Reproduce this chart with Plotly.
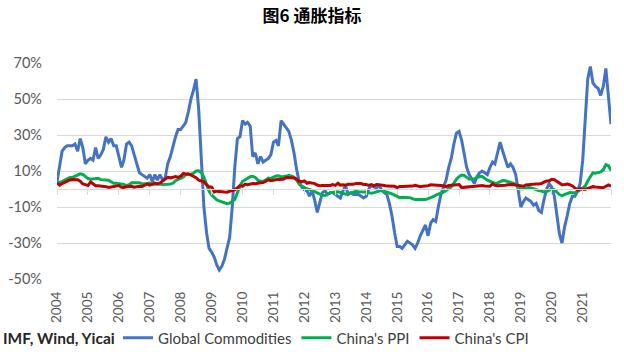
import pandas as pd
import plotly.graph_objects as go

# ---------------- data (monthly, Jan 2004 - Dec 2021, % YoY) ----------------
start_month = "2004-01-01"
n_months = 216

global_commodities = [
    4, 12, 21, 23, 24, 24, 24, 25, 21, 28, 23, 14,        # 2004
    16, 17, 16, 23, 17, 19, 22, 29, 26, 28, 24, 24,       # 2005
    18, 12, 16, 25, 26, 24, 19, 14, 9, 8, 7, 6,           # 2006
    8, 4, 8, 5, 8, 5, 6, 14, 18, 24, 29, 33,              # 2007
    33, 35, 37, 43, 50, 55, 61, 44, 16, -10, -24, -33,    # 2008
    -35, -38, -42, -45, -43, -39, -33, -27, -10, 12, 28, 29,  # 2009
    38, 36, 37, 35, 18, 20, 14, 18, 15, 16, 17, 19,       # 2010
    26, 27, 24, 38, 36, 34, 32, 27, 20, 11, 4, 1,         # 2011
    -0.5, -1, -4, -1, -6, -13, -8, -2, -1, -3, -2, -2,    # 2012
    -3, -4, -5, -1, 2, -3, -2, -3, -3, -3, -4, -5,        # 2013
    -4, 0, 2, 1, 0.5, 2, -0.5, -2, -3, -8, -15, -24,      # 2014
    -32, -32, -33, -31, -29, -30, -31, -33, -30, -26, -23, -20,  # 2015
    -26, -19, -17, -18, -10, -3, 1, 5, 12, 17, 25, 31,    # 2016
    32, 27, 20, 12, 8, 5, 3, 7, 9, 10, 9, 8,              # 2017
    12, 15, 14, 20, 26, 21, 17, 12, 14, 12, 8, -1,        # 2018
    -10, -7, -5, -6, -7, -9, -8, -12, -13, -6, 0, 3,      # 2019
    1, -4, -14, -25, -30, -21, -15, -8, -4, -4, -1, 3,    # 2020
    16, 42, 61, 68, 59, 57, 56, 52, 57, 67, 50, 36,       # 2021
]

china_ppi = [
    3.5, 3.6, 4.0, 5.0, 5.7, 6.4, 6.4, 7.1, 7.9, 8.4, 8.1, 7.1,
    5.8, 5.4, 5.6, 5.8, 5.9, 5.2, 5.2, 5.3, 4.9, 4.0, 3.2, 3.2,
    3.1, 3.0, 2.5, 1.9, 2.4, 3.5, 3.6, 3.4, 3.5, 2.9, 2.8, 3.1,
    3.3, 2.6, 2.7, 2.8, 2.8, 2.5, 2.4, 2.6, 2.7, 3.2, 4.6, 5.4,
    6.1, 6.6, 8.0, 8.1, 8.2, 8.8, 10.0, 10.1, 9.1, 6.6, 2.0, -1.1,
    -3.3, -4.5, -6.0, -6.6, -7.2, -7.8, -8.2, -7.9, -7.0, -5.8, -2.1, 1.7,
    4.3, 5.4, 5.9, 6.8, 7.1, 6.4, 4.8, 4.3, 4.3, 5.0, 6.1, 5.9,
    6.6, 7.2, 7.3, 6.8, 6.8, 7.1, 7.5, 7.3, 6.5, 5.0, 2.7, 1.7,
    0.7, 0.0, -0.3, -0.7, -1.4, -2.1, -2.9, -3.5, -3.6, -2.8, -2.2, -1.9,
    -1.6, -1.6, -1.9, -2.6, -2.9, -2.7, -2.3, -1.6, -1.3, -1.5, -1.4, -1.4,
    -1.6, -2.0, -2.3, -2.0, -1.4, -1.1, -0.9, -1.2, -1.8, -2.2, -2.7, -3.3,
    -4.3, -4.8, -4.6, -4.6, -4.6, -4.8, -5.4, -5.9, -5.9, -5.9, -5.9, -5.9,
    -5.3, -4.9, -4.3, -3.4, -2.8, -2.6, -1.7, -0.8, 0.1, 1.2, 3.3, 5.5,
    6.9, 7.8, 7.6, 6.4, 5.5, 5.5, 5.5, 6.3, 6.9, 6.9, 5.8, 4.9,
    4.3, 3.7, 3.1, 3.4, 4.1, 4.7, 4.6, 4.1, 3.6, 3.3, 2.7, 0.9,
    0.1, 0.1, 0.4, 0.9, 0.6, 0.0, -0.3, -0.8, -1.2, -1.6, -1.4, -0.5,
    0.1, -0.4, -1.5, -3.1, -3.7, -3.0, -2.4, -2.0, -2.1, -2.1, -1.5, -0.4,
    0.3, 1.7, 4.4, 6.8, 9.0, 8.8, 9.0, 9.5, 10.7, 13.5, 12.9, 10.3,
]

china_cpi = [
    3.2, 2.1, 3.0, 3.8, 4.4, 5.0, 5.3, 5.3, 5.2, 4.3, 2.8, 2.4,
    1.9, 3.9, 2.7, 1.8, 1.8, 1.6, 1.8, 1.3, 0.9, 1.2, 1.3, 1.6,
    1.9, 0.9, 0.8, 1.2, 1.4, 1.5, 1.0, 1.3, 1.5, 1.4, 1.9, 2.8,
    2.2, 2.7, 3.3, 3.0, 3.4, 4.4, 5.6, 6.5, 6.2, 6.5, 6.9, 6.5,
    7.1, 8.7, 8.3, 8.5, 7.7, 7.1, 6.3, 4.9, 4.6, 4.0, 2.4, 1.2,
    1.0, -1.6, -1.2, -1.5, -1.4, -1.7, -1.8, -1.2, -0.8, -0.5, 0.6, 1.9,
    1.5, 2.7, 2.4, 2.8, 3.1, 2.9, 3.3, 3.5, 3.6, 4.4, 5.1, 4.6,
    4.9, 4.9, 5.4, 5.3, 5.5, 6.4, 6.5, 6.2, 6.1, 5.5, 4.2, 4.1,
    4.5, 3.2, 3.6, 3.4, 3.0, 2.2, 1.8, 2.0, 1.9, 1.7, 2.0, 2.5,
    2.0, 3.2, 2.1, 2.4, 2.1, 2.7, 2.7, 2.6, 3.1, 3.2, 3.0, 2.5,
    2.5, 2.0, 2.4, 1.8, 2.5, 2.3, 2.3, 2.0, 1.6, 1.6, 1.4, 1.5,
    0.8, 1.4, 1.4, 1.5, 1.2, 1.4, 1.6, 2.0, 1.6, 1.3, 1.5, 1.6,
    1.8, 2.3, 2.3, 2.3, 2.0, 1.9, 1.8, 1.3, 1.9, 2.1, 2.3, 2.1,
    2.5, 0.8, 0.9, 1.2, 1.5, 1.5, 1.4, 1.8, 1.6, 1.9, 1.7, 1.8,
    1.5, 2.9, 2.1, 1.8, 1.8, 1.9, 2.1, 2.3, 2.5, 2.5, 2.2, 1.9,
    1.7, 1.5, 2.3, 2.5, 2.7, 2.7, 2.8, 2.8, 3.0, 3.8, 4.5, 4.5,
    5.4, 5.2, 4.3, 3.3, 2.4, 2.5, 2.7, 2.4, 1.7, 0.5, -0.5, 0.2,
    -0.3, -0.2, 0.4, 0.9, 1.3, 1.1, 1.0, 0.8, 0.7, 1.5, 2.3, 1.5,
]

year_labels = [str(y) for y in range(2004, 2022)]
y_tick_values = [-50, -30, -10, 10, 30, 50, 70]
y_tick_labels = ["-50%", "-30%", "-10%", "10%", "30%", "50%", "70%"]

series_names = ["Global Commodities", "China's PPI", "China's CPI"]
series_colors = ["#4472C4", "#00B050", "#C00000"]

title_text = "图6 通胀指标"
source_text = "IMF, Wind, Yicai"

# ---------------- figure ----------------
dates = pd.date_range(start_month, periods=n_months, freq="MS")
year_ticks = [pd.Timestamp(f"{y}-01-01") for y in year_labels]

fig = go.Figure()
for name, vals, col in zip(series_names, [global_commodities, china_ppi, china_cpi], series_colors):
    fig.add_trace(go.Scatter(x=dates, y=[v / 100 for v in vals], name=name, mode="lines",
                             line=dict(color=col, width=3), hoverinfo="skip"))

# invisible helper trace carrying the zero-line category axis
fig.add_trace(go.Scatter(x=[dates[0], dates[-1]], y=[0, 0], xaxis="x2", mode="lines",
                         line=dict(width=0), showlegend=False, hoverinfo="skip", opacity=0))

font_family = "Lato, 'Liberation Sans', sans-serif"
ymin, ymax = -0.5, 0.7

fig.update_layout(
    width=624, height=354,
    margin=dict(l=57, r=13, t=63, b=75, autoexpand=False),
    paper_bgcolor="white", plot_bgcolor="white",
    title=dict(text=title_text, x=0.5, xref="container", xanchor="center",
               y=1 - 16 / 354, yref="container", yanchor="middle",
               font=dict(family="Noto Sans CJK SC", size=17, color="#000000", weight="bold")),
    xaxis=dict(type="date", range=[dates[0], dates[-1]], tickvals=year_ticks, ticktext=year_labels,
               tickangle=-90, tickfont=dict(family=font_family, size=13.5, color="#595959"),
               showgrid=False, showline=False, zeroline=False, automargin=False,
               ticks="", ticklabelstandoff=9),
    xaxis2=dict(type="date", matches="x", overlaying="x", anchor="free",
                position=(0 - ymin) / (ymax - ymin), showline=True, linecolor="#d9d9d9", linewidth=1,
                ticks="outside", ticklen=5, tickcolor="#d9d9d9", tickwidth=1, automargin=False,
                tickvals=year_ticks + [dates[-1]], showticklabels=False, showgrid=False, zeroline=False),
    yaxis=dict(range=[ymin, ymax], tickvals=[v / 100 for v in y_tick_values], ticktext=y_tick_labels,
               tickfont=dict(family=font_family, size=14.5, color="#595959"), automargin=False,
               showgrid=True, gridcolor="#d9d9d9", gridwidth=1, zeroline=False, showline=False,
               ticklabelstandoff=14),
    legend=dict(orientation="h", x=118 / 624, xref="container", xanchor="left",
                y=1 - 338 / 354, yref="container", yanchor="middle",
                font=dict(family=font_family, size=15, color="#404040"),
                itemwidth=30, tracegroupgap=0, bgcolor="rgba(0,0,0,0)"),
    showlegend=True,
)

fig.add_annotation(text=f"<b>{source_text}</b>", xref="paper", yref="paper",
                   x=(1 - 57) / 554, xanchor="left", y=(279 - 338) / 216, yanchor="middle",
                   showarrow=False, font=dict(family=font_family, size=15.5, color="#262626"))

fig.write_html("out.html")
